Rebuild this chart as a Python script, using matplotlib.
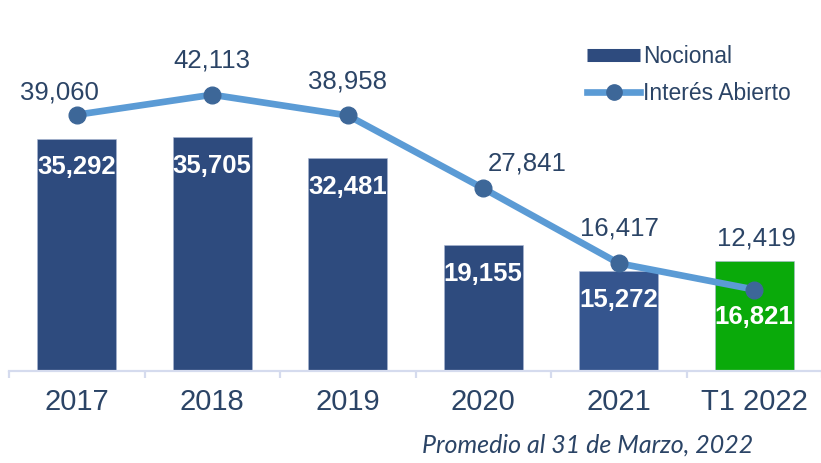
import matplotlib
matplotlib.use("Agg")
import matplotlib.pyplot as plt
from matplotlib.lines import Line2D
import numpy as np

# datos
categorias = ['2017', '2018', '2019', '2020', '2021', 'T1 2022']
nocional = [35292, 35705, 32481, 19155, 15272, 16821]
interes_abierto = [39060, 42113, 38958, 27841, 16417, 12419]

# colores
azul_barra = '#2E4B7E'
azul_2021 = '#35558E'
verde = '#0AAA0A'
azul_linea = '#5B9BD5'
azul_punto = '#3D6798'
texto = '#2B4466'
eje = '#D5DBEE'

plt.rcParams['font.family'] = ['Liberation Sans', 'DejaVu Sans']

fig = plt.figure(figsize=(8.21, 4.63), dpi=100)
W, H = 821, 463
ax = fig.add_axes([9 / W, (H - 371) / H, 813 / W, 328 / H])

x = np.arange(len(categorias))
colores = [azul_barra] * 4 + [azul_2021, verde]
ax.bar(x, nocional, width=0.585, color=colores, edgecolor='#A9B6D3',
       linewidth=0.4, zorder=2)
ax.plot(x, interes_abierto, color=azul_linea, lw=4.8, marker='o',
        markersize=12, markerfacecolor=azul_punto, markeredgecolor=azul_punto,
        zorder=3)

ax.set_xlim(-0.5, 5.5)
ax.set_ylim(0, 50000)

# etiquetas de barras (blanco, negrita)
px = 0.72  # pixel -> puntos
off_barras = [-28, -29, -29, -29, -29, -56]
for i, v in enumerate(nocional):
    ax.annotate(f'{v:,}', (x[i], v), xytext=(0, off_barras[i] * px),
                textcoords='offset points', ha='center', va='center',
                color='white', fontsize=18.5, fontweight='bold', zorder=4)

# etiquetas de la linea
off_linea = [(-17, 22), (0, 34), (0, 34), (44, 25), (1, 35), (2, 51)]
for i, v in enumerate(interes_abierto):
    dx, dy = off_linea[i]
    ax.annotate(f'{v:,}', (x[i], v), xytext=(dx * px, dy * px),
                textcoords='offset points', ha='center', va='center',
                color=texto, fontsize=18.5, zorder=4)

# eje x
for s in ['top', 'right', 'left']:
    ax.spines[s].set_visible(False)
ax.spines['bottom'].set_color(eje)
ax.spines['bottom'].set_linewidth(1.6)
ax.set_yticks([])
ax.set_xticks(x)
ax.set_xticklabels(categorias, fontsize=21, color=texto)
ax.tick_params(axis='x', length=0, pad=12)
ax.set_xticks(np.arange(-0.5, 5.6, 1), minor=True)
ax.tick_params(axis='x', which='minor', length=5, width=1.6, color=eje)

# leyenda
handles = [
    Line2D([0], [0], color=azul_barra, lw=9.4, solid_capstyle='butt'),
    Line2D([0], [0], color=azul_linea, lw=4.8, marker='o', markersize=11,
           markerfacecolor=azul_punto, markeredgecolor=azul_punto),
]
fig.legend(handles, ['Nocional', 'Interés Abierto'], loc='upper left',
           bbox_to_anchor=(578 / W, 1 - 36 / H), frameon=False,
           fontsize=16.5, labelcolor=texto, handlelength=2.3,
           handletextpad=0.15, labelspacing=0.62, borderaxespad=0)

fig.text(753 / W, 1 - 445 / H, 'Promedio al 31 de Marzo, 2022', ha='right',
         va='center', fontsize=18, style='italic', color=texto,
         family=['Lato', 'DejaVu Sans'])

fig.savefig('out.png', dpi=100)
